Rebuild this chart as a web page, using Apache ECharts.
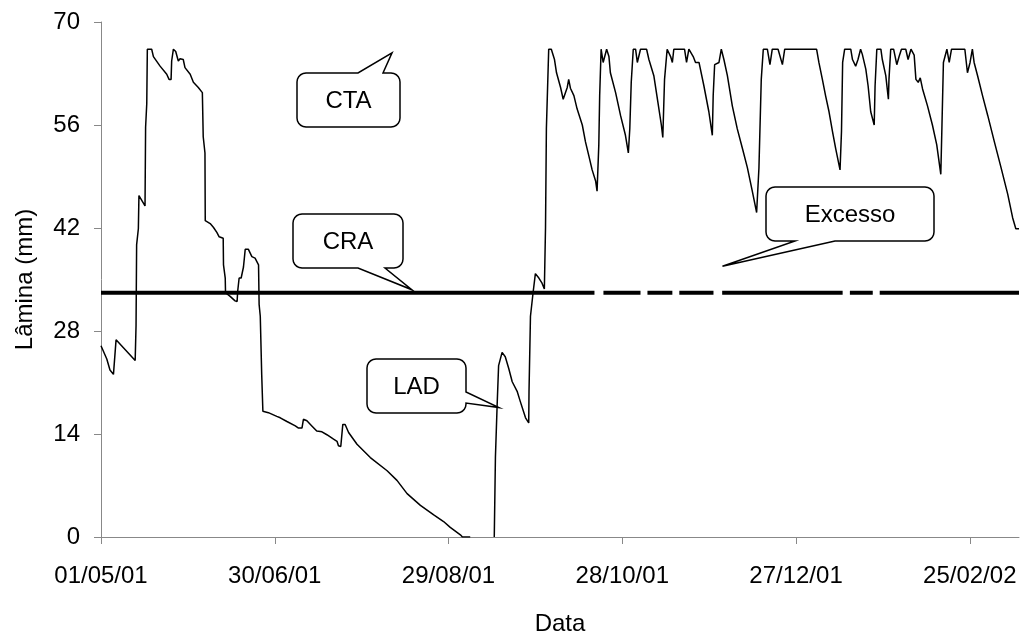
<!DOCTYPE html>
<html>
<head>
<meta charset="utf-8">
<script src="https://cdn.jsdelivr.net/npm/echarts@6/dist/echarts.min.js"></script>
<style>
  html, body { margin: 0; padding: 0; background: #ffffff; }
  #chart { width: 1021px; height: 641px; }
</style>
</head>
<body>
<div id="chart"></div>
<script>
// Lâmina de água no solo, dia a dia a partir de 01/05/2001 (null = sem registro)
const dias = [
  0, 2.0, 3.1, 4.3, 5.2, 11.8, 12.1, 12.3, 12.9, 13.1, 15.2, 15.4, 15.8, 16.0, 17.5, 18.1,
  20.4, 22.7, 23.5, 24.2, 24.4, 25.0, 25.8, 26.7, 27.3, 28.4, 29.0, 30.8, 31.9, 33.6, 35.0,
  35.3, 35.9, 36.0, 37.7, 38.8, 40.0, 40.8, 42.2, 42.3, 42.9, 43.0, 44.6, 46.3, 47.0, 47.2,
  47.7, 48.4, 49.2, 49.8, 50.9, 52.1, 53.2, 54.4, 54.6, 55.0, 55.5, 55.9, 57.8, 60.7, 61.9,
  64.2, 67.1, 68.2, 69.4, 69.9, 71.1, 72.8, 74.5, 76.3, 78.0, 80.3, 81.5, 82.0, 82.8, 83.5,
  84.3, 85.5, 88.4, 93.0, 98.8, 102.2, 105.7, 110.3, 114.9, 118.3, 120.6, 124.1, 124.8,
  127.5, 131.0,
  135.8, 136.2, 136.8, 137.3, 138.5, 139.6, 140.8, 142.0, 143.7, 144.8, 146.6, 147.7, 147.8,
  148.3, 149.2, 150.0, 151.2, 152.3, 153.1, 153.5, 153.8, 154.6, 155.5, 156.6, 157.3, 158.7,
  159.6, 160.0, 161.0, 161.5, 162.1, 163.3, 164.4, 166.2, 167.3, 168.4, 169.6, 170.8, 171.3,
  171.9, 172.2, 172.7, 173.4, 174.6, 175.4, 175.9, 177.7, 179.4, 181.1, 182.1, 182.6, 183.1,
  183.8, 184.6, 185.2, 186.3, 188.4, 189.2, 190.9, 192.3, 193.5, 194.0, 194.6, 195.5, 196.7,
  197.3, 197.8, 201.5, 202.2, 203.0, 204.5, 205.3, 206.5, 208.2, 209.9, 211.1, 211.4, 211.9,
  213.4, 214.2, 215.1, 216.3, 218.0, 219.7, 221.5, 223.2, 224.9, 226.4, 227.2, 228.0, 228.7,
  230.1, 231.0, 231.8, 233.8, 235.3, 236.1, 247.1, 247.9, 249.1, 250.2, 251.4, 252.6, 253.7,
  255.2, 255.7, 256.1, 256.8, 258.9, 259.5, 260.6, 261.4, 262.3, 262.9, 264.1, 264.9, 265.8,
  267.0, 267.3, 267.9, 269.3, 269.8, 271.0, 271.9, 272.1, 272.7, 273.7, 274.8, 275.6, 276.4,
  277.9, 278.7, 279.7, 280.2, 280.8, 281.4, 282.2, 282.9, 283.7, 285.4, 287.1, 288.6, 290.0,
  290.4, 290.9, 292.1, 292.9, 293.7, 298.3, 299.2, 300.1, 300.9, 301.5, 302.7, 304.4, 306.2,
  308.5, 310.8, 313.1, 314.8, 315.9, 317.0
];
const lamina = [
  26.0, 24.2, 22.7, 22.1, 26.8, 24.0, 28.7, 39.7, 41.9, 46.4, 45.0, 55.7, 58.9, 66.3, 66.3, 65.3,
  64.0, 62.9, 62.2, 62.2, 64.7, 66.3, 66.0, 64.7, 65.0, 64.9, 63.8, 62.9, 61.8, 61.1, 60.4,
  54.4, 52.2, 43.0, 42.6, 42.1, 41.4, 40.8, 40.6, 37.0, 35.2, 33.2, 32.7, 32.1, 32.0, 33.4,
  35.2, 35.2, 36.7, 39.1, 39.1, 38.1, 37.9, 37.0, 31.6, 30.0, 22.0, 17.1, 16.9, 16.4, 16.2,
  15.7, 15.1, 14.8, 14.8, 16.0, 15.8, 15.1, 14.4, 14.3, 13.9, 13.3, 13.0, 12.4, 12.3, 15.3,
  15.3, 14.2, 12.6, 10.8, 9.0, 7.7, 5.9, 4.3, 3.0, 2.1, 1.3, 0.3, 0,
  0, null,
  0, 10.8, 18.0, 23.3, 25.1, 24.5, 22.9, 21.1, 19.8, 18.4, 16.2, 15.5, 19.8,
  30.0, 33.2, 35.8, 35.2, 34.5, 33.7, 42.1, 55.5, 66.3, 66.3, 64.9, 63.1, 61.1,
  59.5, 59.5, 61.1, 62.2, 61.0, 60.0, 58.2, 56.0, 53.7, 51.9, 49.9, 48.4, 47.0,
  53.3, 60.0, 66.3, 64.5, 66.3, 65.3, 63.1, 60.4, 57.3, 54.6, 52.2, 55.5, 61.8,
  66.3, 66.3, 64.5, 66.3, 66.3, 64.9, 62.7, 59.1, 56.0, 54.3, 62.2, 66.3, 65.3,
  64.5, 66.3, 66.3, 64.5, 66.3, 65.3, 64.5, 64.5, 61.3, 57.8, 54.6, 60.0, 64.2,
  64.5, 66.3, 64.9, 62.7, 58.6, 55.5, 52.8, 50.2, 47.0, 44.1, 50.2, 62.2, 66.3,
  66.3, 64.2, 66.3, 66.3, 64.2, 66.3, 66.3, 64.5, 62.2, 60.0, 57.8, 55.1, 52.8,
  49.9, 55.1, 64.5, 66.3, 66.3, 64.9, 64.0, 64.9, 66.3, 65.6, 63.6, 61.3, 57.8,
  56.0, 61.3, 66.3, 66.3, 64.9, 62.7, 59.5, 62.2, 66.3, 66.3, 64.2, 65.3, 66.3,
  66.3, 64.9, 66.3, 66.3, 65.5, 62.2, 61.8, 62.4, 60.9, 58.6, 56.0, 53.3, 49.3,
  56.0, 64.5, 66.3, 64.5, 66.3, 66.3, 63.1, 64.5, 66.3, 64.5, 62.7, 60.0, 57.3,
  53.7, 50.2, 46.6, 43.4, 41.9, 41.9
];

// Capacidade real de água (mm) e trechos em que a linha é traçada
const CRA = 33.2;
const trechosCRA = [
  [0, 170.4], [173.5, 186.3], [188.7, 197.3], [199.7, 211.5],
  [214.5, 256.1], [258.6, 266.5], [268.9, 317]
];

// Eixos
const rotulosData = ['01/05/01', '30/06/01', '29/08/01', '28/10/01', '27/12/01', '25/02/02'];
const passoDias = 60;
const diaFinal = 317;
const ticksLamina = [0, 14, 28, 42, 56, 70];

const fonte = "'Liberation Sans', Arial, Helvetica, sans-serif";

const serieLamina = dias.map((d, i) => (lamina[i] === null ? null : [d, lamina[i]]));
const serieCRA = [];
trechosCRA.forEach(([a, b], i) => {
  serieCRA.push([a, CRA], [b, CRA]);
  if (i < trechosCRA.length - 1) serieCRA.push(null);
});

const chart = echarts.init(document.getElementById('chart'), null, { renderer: 'canvas' });

chart.setOption({
  animation: false,
  backgroundColor: '#ffffff',
  grid: { left: 101, right: 2, top: 22, bottom: 97, containLabel: false },
  xAxis: {
    type: 'value',
    min: 0,
    max: diaFinal,
    interval: passoDias,
    name: 'Data',
    nameLocation: 'middle',
    nameGap: 75,
    nameTextStyle: { color: '#000', fontSize: 24, fontFamily: fonte },
    axisLine: { show: true, onZero: false, lineStyle: { color: '#888', width: 1 } },
    axisTick: {
      show: true, inside: false, length: 7,
      customValues: rotulosData.map((_, i) => i * passoDias),
      lineStyle: { color: '#888', width: 1 }
    },
    axisLabel: {
      show: true, margin: 27, color: '#000', fontSize: 24, fontFamily: fonte,
      customValues: rotulosData.map((_, i) => i * passoDias),
      formatter: v => rotulosData[Math.round(v / passoDias)] || ''
    },
    splitLine: { show: false }
  },
  yAxis: {
    type: 'value',
    min: ticksLamina[0],
    max: ticksLamina[ticksLamina.length - 1],
    interval: 14,
    name: 'Lâmina (mm)',
    nameLocation: 'middle',
    nameRotate: 90,
    nameGap: 64,
    nameTextStyle: { color: '#000', fontSize: 24, fontFamily: fonte },
    axisLine: { show: true, lineStyle: { color: '#888', width: 1 } },
    axisTick: { show: true, inside: false, length: 7, lineStyle: { color: '#888', width: 1 } },
    axisLabel: { margin: 21, color: '#000', fontSize: 24, fontFamily: fonte },
    splitLine: { show: false }
  },
  series: [
    {
      type: 'line',
      data: serieLamina,
      showSymbol: false,
      connectNulls: false,
      lineStyle: { color: '#000', width: 1.5 },
      z: 2
    },
    {
      type: 'line',
      data: serieCRA,
      showSymbol: false,
      connectNulls: false,
      lineStyle: { color: '#000', width: 4, cap: 'butt' },
      z: 3
    }
  ]
});

// Balões de identificação: caixa em pixels, ponta em coordenadas dos dados
const baloes = [
  { texto: 'CTA', x: 297, y: 73, w: 103, h: 54, lado: 'top', a: 358, b: 383, ponta: [100.5, 65.8] },
  { texto: 'CRA', x: 293, y: 214, w: 110, h: 54, lado: 'bottom', a: 358, b: 385, ponta: [107.4, 33.6] },
  { texto: 'LAD', x: 367, y: 359, w: 99, h: 54, lado: 'right', a: 392, b: 403, ponta: [137.4, 17.6] },
  { texto: 'Excesso', x: 766, y: 187, w: 168, h: 54, lado: 'bottom', a: 795, b: 835, ponta: [214.6, 36.8] }
];

function arco(pts, cx, cy, r, g0, g1) {
  const n = 5;
  for (let k = 0; k <= n; k++) {
    const t = (g0 + (g1 - g0) * k / n) * Math.PI / 180;
    pts.push([cx + r * Math.cos(t), cy + r * Math.sin(t)]);
  }
}

function contorno(bl, tip) {
  const { x, y, w, h, lado, a, b } = bl;
  const r = 9;
  const p = [];
  arco(p, x + r, y + r, r, 180, 270);
  if (lado === 'top') p.push([a, y], tip, [b, y]);
  arco(p, x + w - r, y + r, r, 270, 360);
  if (lado === 'right') p.push([x + w, a], tip, [x + w, b]);
  arco(p, x + w - r, y + h - r, r, 0, 90);
  if (lado === 'bottom') p.push([b, y + h], tip, [a, y + h]);
  arco(p, x + r, y + h - r, r, 90, 180);
  return p;
}

const elementos = [];
baloes.forEach(bl => {
  const tip = chart.convertToPixel({ gridIndex: 0 }, bl.ponta);
  elementos.push({
    type: 'polygon',
    shape: { points: contorno(bl, tip) },
    style: { fill: '#ffffff', stroke: '#000000', lineWidth: 1.5 },
    z: 10
  });
  elementos.push({
    type: 'text',
    x: bl.x + bl.w / 2,
    y: bl.y + bl.h / 2 + 1,
    style: {
      text: bl.texto,
      fill: '#000',
      font: '24px ' + fonte,
      align: 'center',
      verticalAlign: 'middle'
    },
    z: 11
  });
});

chart.setOption({ graphic: { elements: elementos } });
</script>
</body>
</html>
